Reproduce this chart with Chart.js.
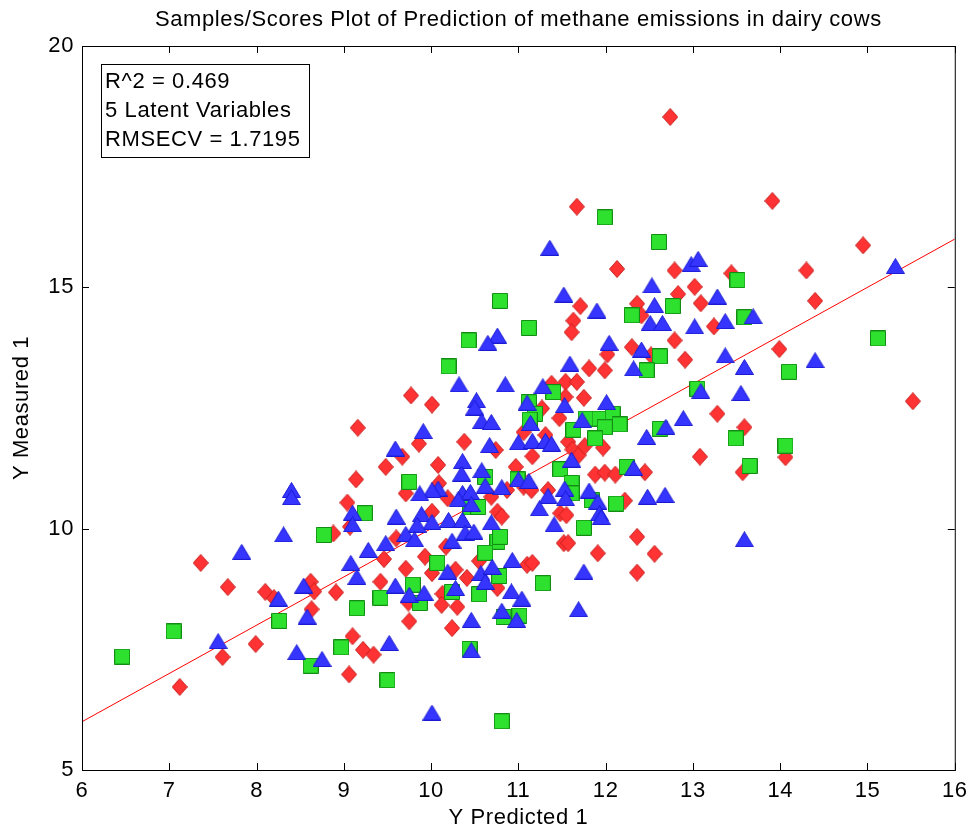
<!DOCTYPE html>
<html>
<head>
<meta charset="utf-8">
<script src="https://cdn.jsdelivr.net/npm/chart.js@4.4.1/dist/chart.umd.min.js"></script>
<style>
  html, body { margin: 0; padding: 0; background: #fff; }
  #wrap { width: 975px; height: 832px; }
</style>
</head>
<body>
<div id="wrap"><canvas id="chart" width="975" height="832"></canvas></div>
<script>
// Data (Y Predicted 1 vs Y Measured 1)
const redPredicted = [11.67, 12.13, 12.79, 12.83, 11.71, 12.36, 12.41, 11.63, 11.61, 12.79, 12.30, 12.52, 12.02, 11.81, 11.99,
  12.74, 13.91, 14.95, 14.30, 13.44, 13.02, 13.09, 14.40, 13.24, 13.99, 12.91,
  15.52, 13.28, 13.59, 14.06, 13.08, 13.57,
  9.16, 9.48, 9.14, 9.04, 9.07, 8.88, 7.36, 9.46,
  7.67, 8.10, 8.20, 8.62, 8.66, 8.63, 8.91, 9.42, 7.99, 7.61, 7.12, 9.10, 9.22, 9.34, 9.06,
  9.71, 10.01, 10.28, 10.41, 10.55, 11.10, 11.16, 10.76, 12.36, 9.74, 10.13, 10.12, 10.30, 9.75, 10.24, 11.91, 12.56,
  9.77, 10.01, 11.38, 11.54, 11.67, 11.54, 11.75, 11.27, 11.47, 9.86, 10.38, 9.67, 11.06, 11.31, 10.74, 11.57, 11.62,
  11.69, 11.76, 11.97, 11.16, 10.08, 10.97, 11.88, 11.99, 12.11, 12.45, 11.06, 11.15, 10.09, 9.71, 10.69, 10.87, 10.19,
  12.22, 11.34, 11.48, 11.55, 10.01, 10.76, 10.81, 9.60, 10.17, 11.52, 11.57, 12.36, 9.93]
const redMeasured = [16.67, 15.38, 15.35, 14.86, 14.61, 14.66, 14.42, 14.31, 14.07, 13.90, 13.76, 13.59, 13.61, 13.32, 13.28,
  18.53, 16.79, 15.87, 15.35, 15.29, 15.01, 14.67, 14.72, 14.19, 13.72, 13.50,
  12.64, 12.38, 12.10, 11.48, 11.49, 11.17,
  12.09, 11.28, 11.02, 10.54, 10.04, 9.90, 9.29, 9.37,
  8.79, 8.69, 8.56, 8.90, 8.70, 8.33, 8.68, 8.90, 7.61, 7.34, 6.72, 7.77, 7.49, 7.39, 6.98,
  9.17, 9.08, 9.15, 8.98, 9.33, 9.25, 9.29, 8.77, 9.09, 8.47, 8.65, 8.42, 8.38, 8.08, 7.94, 9.49, 9.48,
  12.76, 12.57, 13.00, 13.04, 13.04, 12.73, 12.71, 12.49, 12.29, 11.76, 11.80, 11.49, 12.00, 11.94, 11.63, 11.80, 11.64,
  11.52, 11.71, 11.68, 11.50, 11.32, 11.28, 11.12, 11.16, 11.12, 11.17, 10.87, 10.80, 10.94, 10.73, 10.66, 10.80, 10.63,
  10.58, 10.80, 10.32, 10.28, 10.35, 10.35, 10.25, 9.80, 9.63, 9.70, 9.70, 9.83, 9.42]

const greenPredicted = [11.99, 12.61, 12.77, 12.30, 11.12, 10.79, 10.43, 12.62, 10.20, 12.47,
  13.51, 13.59, 15.12, 14.10, 13.05, 13.49, 14.06, 13.65, 12.62,
  9.24, 8.77, 9.42, 9.15, 8.26, 7.05, 6.46, 8.97, 8.62,
  10.07, 10.78, 11.28, 9.79, 9.87, 10.24, 10.55, 10.83, 11.01, 10.44, 9.50, 10.81,
  11.40, 11.12, 11.19, 11.13, 11.77, 11.93, 12.08, 12.16, 11.99, 11.63, 11.88, 10.62, 11.48, 11.61, 12.24,
  9.75, 10.99, 10.45, 10.54, 11.61, 11.84, 12.12, 11.75, 10.76, 10.79, 10.62]
const greenMeasured = [16.45, 15.94, 14.61, 14.42, 14.16, 14.72, 13.90, 13.57, 13.36, 13.28,
  15.15, 14.38, 13.94, 13.25, 12.90, 11.87, 11.72, 11.30, 12.07,
  10.32, 9.87, 8.57, 8.35, 8.09, 7.87, 7.35, 7.54, 7.16,
  9.29, 9.02, 8.87, 8.84, 8.46, 8.69, 8.64, 8.17, 8.20, 7.51, 6.86, 6.01,
  12.83, 12.62, 12.38, 12.26, 12.28, 12.28, 12.38, 12.16, 12.10, 12.05, 11.87, 11.07, 11.23, 10.95, 11.28,
  10.97, 11.02, 10.44, 10.45, 10.73, 10.59, 10.52, 10.02, 9.73, 9.83, 9.50]

const bluePredicted = [11.36, 12.53, 11.52, 12.56, 11.90, 12.51, 12.65, 10.76, 10.65, 12.04, 12.41, 11.59, 12.32,
  15.32, 12.98, 13.06, 13.28, 13.69, 13.02, 13.37, 14.40, 13.37, 13.59,
  13.09, 13.55, 12.89, 12.69, 13.59, 12.68, 12.47,
  8.40, 8.40, 9.10, 9.10, 8.31, 7.83, 9.28, 9.48, 9.08,
  8.25, 8.54, 8.58, 9.15, 7.56, 8.46, 8.75,
  10.19, 10.57, 10.70, 10.93, 10.62, 11.75, 9.59, 9.75, 9.92, 10.28, 10.92, 11.04, 10.46, 10.81, 10.98, 11.69, 9.52, 10.46, 10.01,
  10.32, 10.85, 10.52, 10.50, 11.28, 11.10, 11.53, 12.01, 11.14, 11.73, 10.58, 10.69, 9.91, 9.59, 11.00, 11.16, 11.31, 11.38,
  10.67, 11.61, 10.36, 10.35, 10.58, 12.32, 11.00, 11.12, 10.08, 10.01, 9.87, 10.62, 10.81, 10.36, 10.45, 10.31, 10.46,
  11.34, 11.53, 11.54, 11.81, 11.91, 12.48, 11.24, 11.93, 11.95, 9.60, 9.89, 10.01, 10.20, 10.36, 10.69, 9.84, 9.71, 9.81,
  10.39, 10.49, 10.24, 11.41]
const blueMeasured = [15.82, 15.04, 14.85, 14.63, 14.52, 14.26, 14.26, 14.00, 13.85, 13.85, 13.71, 13.42, 13.32,
  15.44, 15.48, 15.59, 14.81, 14.40, 14.19, 14.30, 13.49, 13.59, 13.35,
  12.85, 12.81, 12.29, 12.11, 9.78, 10.70, 11.90,
  10.80, 10.65, 10.33, 10.09, 9.88, 9.52, 9.56, 9.70, 9.29,
  8.55, 8.82, 8.18, 9.00, 7.67, 7.44, 7.30,
  9.11, 9.08, 9.21, 9.35, 8.90, 9.11, 8.82, 8.63, 8.67, 8.77, 8.70, 8.55, 8.11, 8.30, 8.11, 8.33, 7.63, 7.48, 6.19,
  12.99, 12.99, 12.66, 12.51, 12.95, 12.61, 12.56, 12.62, 12.19, 12.25, 12.23, 12.21, 12.02, 11.66, 11.79, 11.82, 11.82, 11.76,
  11.73, 11.43, 11.40, 11.14, 11.21, 11.26, 11.02, 10.99, 10.83, 10.80, 10.73, 10.89, 10.86, 10.74, 10.76, 10.61, 10.51,
  10.68, 10.83, 10.63, 10.79, 10.56, 10.66, 10.42, 10.32, 10.24, 10.25, 10.30, 10.14, 10.18, 10.18, 10.13, 10.08, 9.89, 9.78,
  9.92, 9.94, 9.75, 10.09]

// Reference line (fit)
const fitPredicted = [6, 16]
const fitMeasured = [6, 16]

const xTicks = [6, 7, 8, 9, 10, 11, 12, 13, 14, 15, 16]
const yTicks = [5, 10, 15, 20]

const infoLines = ['R^2 = 0.469', '5 Latent Variables', 'RMSECV = 1.7195']
const FONT = "'Liberation Sans', Arial, Helvetica, sans-serif"

const toPoints = (xs, ys) => xs.map((x, i) => ({ x: x, y: ys[i] }))

// MATLAB-like markers drawn into small canvases
function makeMarker(w, h, fill, stroke, path) {
    const c = document.createElement('canvas')
    c.width = w
    c.height = h
    const g = c.getContext('2d')
    g.fillStyle = fill
    g.strokeStyle = stroke
    g.lineWidth = 1
    g.beginPath()
    path(g, w, h)
    g.closePath()
    g.fill()
    g.stroke()
    return c
}

const diamond = makeMarker(16, 18, '#ff3333', '#c81e1e', (g, w, h) => {
    g.moveTo(w / 2, 0.5); g.lineTo(w - 0.5, h / 2); g.lineTo(w / 2, h - 0.5); g.lineTo(0.5, h / 2)
})
const square = makeMarker(16, 16, '#2fe12f', '#138c13', (g, w, h) => {
    g.rect(0.5, 0.5, w - 1, h - 1)
})
const triangle = makeMarker(19, 16, '#3535ff', '#1a1ad2', (g, w, h) => {
    g.moveTo(w / 2, 0.5); g.lineTo(w - 0.5, h - 0.5); g.lineTo(0.5, h - 0.5)
})

// MATLAB text is a bit wider than Arial
const textSpacing = {
    id: 'textSpacing',
    beforeDraw(chart) {
        chart.ctx.letterSpacing = '0.6px'
    }
}

// box + inward ticks + info text
const matlabAxes = {
    id: 'matlabAxes',
    afterDraw(chart) {
        const { ctx, chartArea: a, scales: { x, y } } = chart
        ctx.save()
        ctx.strokeStyle = '#000'
        ctx.lineWidth = 1
        ctx.strokeRect(a.left + 0.5, a.top + 0.5, a.right - a.left, a.bottom - a.top)
        ctx.beginPath()
        ctx.moveTo(a.left, a.bottom + 0.5)
        ctx.lineTo(a.right + 1, a.bottom + 0.5)
        ctx.stroke()
        const len = 7
        ctx.beginPath()
        xTicks.forEach(v => {
            const px = Math.round(x.getPixelForValue(v)) + 0.5
            ctx.moveTo(px, a.bottom); ctx.lineTo(px, a.bottom - len)
            ctx.moveTo(px, a.top); ctx.lineTo(px, a.top + len)
        })
        yTicks.forEach(v => {
            const py = Math.round(y.getPixelForValue(v)) + 0.5
            ctx.moveTo(a.left, py); ctx.lineTo(a.left + len, py)
            ctx.moveTo(a.right, py); ctx.lineTo(a.right - len, py)
        })
        ctx.stroke()

        // info box
        const bx = a.left + 19, by = a.top + 18, bw = 208, bh = 93
        ctx.fillStyle = '#fff'
        ctx.fillRect(bx, by, bw, bh)
        ctx.strokeRect(bx + 0.5, by + 0.5, bw, bh)
        ctx.fillStyle = '#000'
        ctx.font = '22px ' + FONT
        ctx.textBaseline = 'middle'
        ctx.textAlign = 'left'
        infoLines.forEach((t, i) => ctx.fillText(t, bx + 4, by + 18 + i * 29))

        // title
        ctx.font = '22px ' + FONT
        ctx.textAlign = 'center'
        ctx.fillText('Samples/Scores Plot of Prediction of methane emissions in dairy cows', (a.left + a.right) / 2, 20)
        ctx.restore()
    }
}

const tickFont = { family: FONT, size: 22 }

new Chart(document.getElementById('chart'), {
    type: 'scatter',
    data: {
        datasets: [
            {
                type: 'line',
                data: toPoints(fitPredicted, fitMeasured),
                borderColor: '#ff0000',
                borderWidth: 1,
                pointRadius: 0,
                showLine: true,
                order: 4
            },
            {
                data: toPoints(redPredicted, redMeasured),
                pointStyle: diamond,
                pointRadius: 8,
                order: 3
            },
            {
                data: toPoints(greenPredicted, greenMeasured),
                pointStyle: square,
                pointRadius: 8,
                order: 2
            },
            {
                data: toPoints(bluePredicted, blueMeasured),
                pointStyle: triangle,
                pointRadius: 8,
                order: 1
            }
        ]
    },
    options: {
        responsive: false,
        animation: false,
        events: [],
        layout: { padding: { top: 46, right: 17, left: 0, bottom: 0 } },
        plugins: {
            legend: { display: false },
            tooltip: { enabled: false }
        },
        scales: {
            x: {
                type: 'linear',
                min: 6,
                max: 16,
                afterFit: s => { s.height = 62 },
                afterBuildTicks: s => { s.ticks = xTicks.map(v => ({ value: v })) },
                grid: { display: false, drawTicks: false },
                border: { display: false },
                ticks: { color: '#000', font: tickFont, padding: 8, maxRotation: 0 },
                title: { display: true, text: 'Y Predicted 1', color: '#000', font: tickFont, padding: { top: 0, bottom: 1 } }
            },
            y: {
                type: 'linear',
                min: 5,
                max: 20,
                afterFit: s => { s.width = 82 },
                afterBuildTicks: s => { s.ticks = yTicks.map(v => ({ value: v })) },
                grid: { display: false, drawTicks: false },
                border: { display: false },
                ticks: { color: '#000', font: tickFont, padding: 8 },
                title: { display: true, text: 'Y Measured 1', color: '#000', font: tickFont, padding: { top: 9, bottom: 0 } }
            }
        }
    },
    plugins: [textSpacing, matlabAxes]
})
</script>
</body>
</html>
